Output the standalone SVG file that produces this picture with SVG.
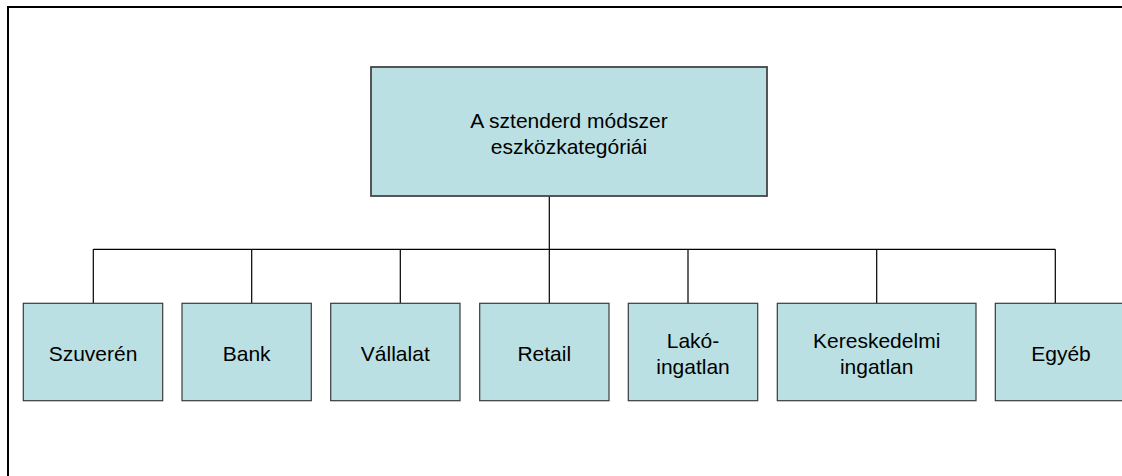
<svg xmlns="http://www.w3.org/2000/svg" width="1122" height="476" viewBox="0 0 1122 476">
<style>
.box{fill:#BBE0E3;stroke:#3a3a3a;stroke-width:1.2}
.top{fill:#BBE0E3;stroke:#454545;stroke-width:1.8}
text{font-family:"Liberation Sans",Arial,sans-serif;font-size:21px;fill:#000;text-anchor:middle}
.conn{fill:none;stroke:#000;stroke-width:1.2}
</style>
<rect x="0" y="0" width="1122" height="476" fill="#fff"/>
<rect x="8" y="7" width="1130" height="480" fill="none" stroke="#000" stroke-width="2"/>
<g id="connectors">
<path class="conn" d="M549.3 196 V249.3 M93.3 249.3 H1055.3 M93.3 249.3 V303.3 M251.7 249.3 V303.3 M400.3 249.3 V303.3 M549.3 249.3 V303.3 M688 249.3 V303.3 M876.7 249.3 V303.3 M1055.3 249.3 V303.3"/>
</g>
<g id="root">
<rect class="top" x="371" y="67" width="396" height="129"/>
<text x="569" y="127.5">A sztenderd módszer</text>
<text x="569" y="153.5">eszközkategóriái</text>
</g>
<g id="szuveren">
<rect class="box" x="23.3" y="303.3" width="139.4" height="97.4"/>
<text x="93" y="360.5">Szuverén</text>
</g>
<g id="bank">
<rect class="box" x="182" y="303.3" width="129.3" height="97.4"/>
<text x="246.7" y="360.5">Bank</text>
</g>
<g id="vallalat">
<rect class="box" x="330.7" y="303.3" width="129.3" height="97.4"/>
<text x="395.3" y="360.5">Vállalat</text>
</g>
<g id="retail">
<rect class="box" x="479.7" y="303.3" width="129.3" height="97.4"/>
<text x="544.3" y="360.5">Retail</text>
</g>
<g id="lakoingatlan">
<rect class="box" x="628.3" y="303.3" width="129.4" height="97.4"/>
<text x="693" y="348.3">Lakó-</text>
<text x="693" y="374.3">ingatlan</text>
</g>
<g id="kereskedelmi">
<rect class="box" x="777.3" y="303.3" width="198.7" height="97.4"/>
<text x="876.7" y="348.3">Kereskedelmi</text>
<text x="876.7" y="374.3">ingatlan</text>
</g>
<g id="egyeb">
<rect class="box" x="995.3" y="303.3" width="131.4" height="97.4"/>
<text x="1061" y="360.5">Egyéb</text>
</g>
</svg>
